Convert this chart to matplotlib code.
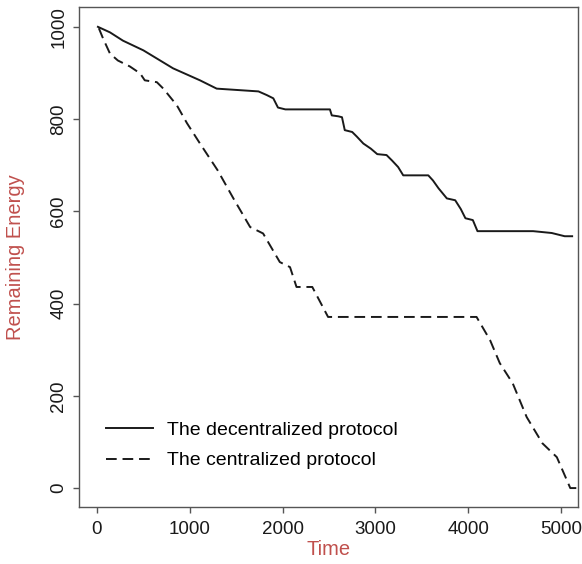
import matplotlib.pyplot as plt
import numpy as np

plt.rcParams['font.family'] = ['Liberation Sans', 'DejaVu Sans']

# remaining energy over time for the two protocols
dec_time = [10, 140, 280, 500, 820, 1110, 1290, 1740, 1830, 1900, 1950,
            2030, 2510, 2530, 2600, 2640, 2670, 2750, 2800, 2870, 2950,
            3020, 3120, 3180, 3245, 3300, 3570, 3620, 3680, 3770, 3860,
            3920, 3970, 4050, 4100, 4700, 4900, 5040, 5120]
dec_energy = [1000, 988, 970, 949, 910, 884, 866, 860, 852, 845, 825,
              821, 821, 808, 806, 804, 776, 772, 762, 747, 736,
              724, 722, 710, 696, 678, 678, 667, 650, 628, 624,
              605, 585, 581, 557, 557, 553, 546, 546]

cen_time = [20, 65, 140, 225, 355, 465, 515, 645, 715, 860, 970, 1110,
            1300, 1470, 1650, 1790, 1970, 2080, 2150, 2320, 2490, 4090,
            4235, 4340, 4480, 4630, 4800, 4955, 5100, 5250]
cen_energy = [997, 975, 942, 927, 914, 899, 884, 880, 866, 830, 791, 747,
              689, 628, 566, 552, 490, 479, 436, 436, 371, 371,
              321, 271, 227, 154, 97, 67, 0, 0]

x_ticks = [0, 1000, 2000, 3000, 4000, 5000]
y_ticks = [0, 200, 400, 600, 800, 1000]

label_red = '#c0504d'
axis_grey = '#555555'

fig = plt.figure(figsize=(5.82, 5.64), dpi=100)
ax = fig.add_axes([0.1357, 0.1011, 0.8574, 0.8865])

ax.plot(dec_time, dec_energy, color='#1a1a1a', lw=1.4,
        label='The decentralized protocol')
ax.plot(cen_time, cen_energy, color='#1a1a1a', lw=1.4, linestyle=(0, (5.5, 3)),
        label='The centralized protocol')

ax.set_xlim(-194, 5183)
ax.set_ylim(-41, 1043)
ax.set_xticks(x_ticks)
ax.set_yticks(y_ticks)
ax.tick_params(axis='both', direction='out', length=4.3, width=1.0,
               color=axis_grey, labelsize=13.5, labelcolor='#1a1a1a')
ax.tick_params(axis='x', pad=6)
ax.tick_params(axis='y', pad=4)
for lab in ax.get_yticklabels():
    lab.set_rotation(90)
    lab.set_va('center')
for sp in ax.spines.values():
    sp.set_color(axis_grey)
    sp.set_linewidth(1.0)

ax.set_xlabel('Time', color=label_red, fontsize=14.5, va='center')
ax.xaxis.set_label_coords(0.5, -0.086)
ax.set_ylabel('Remaining Energy', color=label_red, fontsize=14.5, va='center')
ax.yaxis.set_label_coords(-0.128, 0.5)

ax.legend(loc='lower left', bbox_to_anchor=(0.02, 0.04), frameon=False,
          fontsize=14, handlelength=2.4, handletextpad=0.7, labelspacing=0.66)

fig.savefig('out.png', dpi=100)
